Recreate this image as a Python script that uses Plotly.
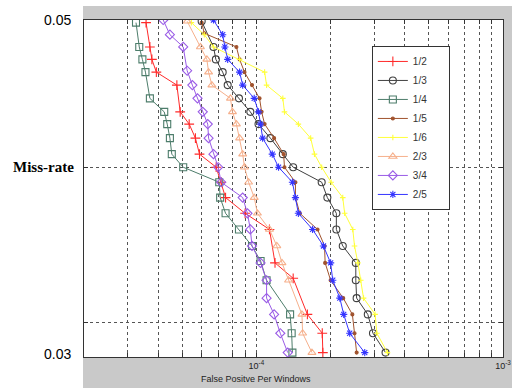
import plotly.graph_objects as go

# False positives per window (x) and miss-rate (y)
x_1_2 = [3.57e-5, 3.7e-5, 3.77e-5, 3.93e-5, 4.76e-5, 4.91e-5, 5.34e-5, 5.66e-5, 5.88e-5, 6.87e-5, 7.2e-5, 7.5e-5, 9.0e-5, 1.13e-4, 1.19e-4, 1.41e-4, 1.61e-4, 1.85e-4, 1.86e-4]
y_1_2 = [0.0498, 0.0480, 0.0471, 0.0462, 0.0453, 0.0435, 0.0427, 0.0418, 0.0408, 0.0400, 0.0391, 0.0382, 0.0373, 0.0364, 0.0346, 0.0338, 0.0320, 0.0311, 0.0302]

x_1_3 = [6.0e-5, 6.7e-5, 6.85e-5, 7.3e-5, 7.65e-5, 8.5e-5, 9.45e-5, 1.02e-4, 1.14e-4, 1.28e-4, 1.41e-4, 1.84e-4, 1.94e-4, 2.11e-4, 2.11e-4, 2.24e-4, 2.53e-4, 2.53e-4, 2.55e-4, 2.83e-4, 2.97e-4, 3.34e-4]
y_1_3 = [0.0499, 0.0480, 0.0471, 0.0462, 0.0453, 0.0444, 0.0435, 0.0427, 0.0418, 0.0408, 0.0400, 0.0391, 0.0382, 0.0373, 0.0364, 0.0355, 0.0346, 0.0337, 0.0328, 0.0320, 0.0311, 0.0302]

x_1_4 = [3.25e-5, 3.35e-5, 3.45e-5, 3.55e-5, 3.7e-5, 4.23e-5, 4.35e-5, 4.46e-5, 4.54e-5, 5.05e-5, 7.07e-5, 7.13e-5, 7.5e-5, 8.5e-5, 9.6e-5, 1.04e-4, 1.1e-4, 1.37e-4, 1.39e-4, 1.4e-4]
y_1_4 = [0.0498, 0.0480, 0.0471, 0.0462, 0.0444, 0.0435, 0.0427, 0.0418, 0.0408, 0.0400, 0.0391, 0.0382, 0.0373, 0.0364, 0.0355, 0.0347, 0.0337, 0.0320, 0.0311, 0.0302]

x_1_5 = [6.0e-5, 6.15e-5, 8.3e-5, 8.55e-5, 8.95e-5, 9.6e-5, 1.03e-4, 1.05e-4, 1.08e-4, 1.18e-4, 1.29e-4, 1.3e-4, 1.44e-4, 1.44e-4, 1.5e-4, 1.77e-4, 1.89e-4, 1.9e-4, 2.0e-4, 2.25e-4, 2.45e-4, 2.5e-4, 2.55e-4]
y_1_5 = [0.0498, 0.0490, 0.0480, 0.0471, 0.0462, 0.0453, 0.0444, 0.0435, 0.0427, 0.0418, 0.0408, 0.0400, 0.0391, 0.0382, 0.0373, 0.0364, 0.0355, 0.0346, 0.0337, 0.0328, 0.0320, 0.0311, 0.0302]

x_1_6 = [5.45e-5, 6.15e-5, 6.7e-5, 8.55e-5, 1.08e-4, 1.1e-4, 1.28e-4, 1.3e-4, 1.48e-4, 1.66e-4, 1.72e-4, 1.84e-4, 2.01e-4, 2.24e-4, 2.28e-4, 2.46e-4, 2.5e-4, 2.58e-4, 2.65e-4, 2.72e-4, 3.03e-4, 3.08e-4, 3.4e-4]
y_1_6 = [0.0498, 0.0489, 0.0480, 0.0471, 0.0462, 0.0453, 0.0444, 0.0435, 0.0427, 0.0418, 0.0408, 0.0400, 0.0391, 0.0382, 0.0373, 0.0364, 0.0355, 0.0346, 0.0337, 0.0328, 0.0320, 0.0311, 0.0302]

x_2_3 = [5.24e-5, 5.93e-5, 6.3e-5, 6.4e-5, 6.6e-5, 7.85e-5, 8.0e-5, 8.3e-5, 8.55e-5, 8.8e-5, 8.95e-5, 9.3e-5, 9.8e-5, 1.01e-4, 1.13e-4, 1.21e-4, 1.27e-4, 1.35e-4, 1.53e-4, 1.54e-4, 1.68e-4]
y_2_3 = [0.0499, 0.0480, 0.0471, 0.0462, 0.0453, 0.0444, 0.0435, 0.0427, 0.0418, 0.0408, 0.0400, 0.0391, 0.0382, 0.0373, 0.0364, 0.0355, 0.0346, 0.0337, 0.0320, 0.0311, 0.0302]

x_3_4 = [4.19e-5, 4.46e-5, 5.05e-5, 5.24e-5, 5.5e-5, 5.77e-5, 6.06e-5, 6.35e-5, 6.4e-5, 6.7e-5, 7.0e-5, 7.2e-5, 8.8e-5, 9.2e-5, 9.45e-5, 9.6e-5, 1.04e-4, 1.1e-4, 1.1e-4, 1.18e-4, 1.25e-4, 1.34e-4]
y_3_4 = [0.0500, 0.0489, 0.0480, 0.0463, 0.0453, 0.0444, 0.0435, 0.0427, 0.0418, 0.0408, 0.0400, 0.0391, 0.0382, 0.0373, 0.0364, 0.0355, 0.0346, 0.0337, 0.0328, 0.0320, 0.0311, 0.0302]

x_2_5 = [6.7e-5, 7.3e-5, 7.45e-5, 7.65e-5, 8.55e-5, 8.8e-5, 9.8e-5, 1.02e-4, 1.04e-4, 1.06e-4, 1.16e-4, 1.23e-4, 1.4e-4, 1.44e-4, 1.48e-4, 1.69e-4, 1.87e-4, 2.0e-4, 2.04e-4, 2.18e-4, 2.26e-4, 2.39e-4, 2.75e-4]
y_2_5 = [0.0500, 0.0489, 0.0480, 0.0471, 0.0462, 0.0453, 0.0444, 0.0435, 0.0427, 0.0418, 0.0408, 0.0400, 0.0391, 0.0382, 0.0373, 0.0364, 0.0355, 0.0346, 0.0337, 0.0328, 0.0320, 0.0311, 0.0302]

series_names = ["1/2", "1/3", "1/4", "1/5", "1/6", "2/3", "3/4", "2/5"]
series_x = [x_1_2, x_1_3, x_1_4, x_1_5, x_1_6, x_2_3, x_3_4, x_2_5]
series_y = [y_1_2, y_1_3, y_1_4, y_1_5, y_1_6, y_2_3, y_3_4, y_2_5]

x_tick_vals = [2e-5, 3e-5, 4e-5, 5e-5, 6e-5, 7e-5, 8e-5, 9e-5,
               1e-4, 2e-4, 3e-4, 4e-4, 5e-4, 6e-4, 7e-4, 8e-4, 9e-4, 1e-3]
x_tick_text = ["" for _ in x_tick_vals]
x_tick_text[8] = "10<sup>-4</sup>"
x_tick_text[17] = "10<sup>-3</sup>"
y_grid_vals = [0.0316228, 0.04]
y_labels = ["0.05", "<b>Miss-rate</b>", "0.03"]

colors = ["#ff2a2a", "#404040", "#4d7d6b", "#a0522d", "#ffff3a", "#f6b08c", "#9a5ce6", "#3535ff"]
symbols = ["cross-thin-open", "circle-open", "square-open", "circle", "cross-thin-open",
           "triangle-up-open", "diamond-open", "asterisk-open"]
sizes = [7, 7, 7, 3, 4, 7, 7, 6]

fig = go.Figure()
for name, xs, ys, c, s, sz in zip(series_names, series_x, series_y, colors, symbols, sizes):
    fig.add_trace(go.Scatter(
        x=xs, y=ys, name=name + "\u00a0\u00a0\u00a0\u00a0\u00a0\u00a0",
        mode="lines+markers",
        line=dict(color=c, width=1),
        marker=dict(symbol=s, size=sz, color=c, line=dict(color=c, width=1.1)),
    ))

grid = dict(showgrid=True, gridcolor="#555555", griddash="dot", gridwidth=1,
            showline=True, linecolor="#333333", linewidth=1, mirror="ticks",
            ticks="inside", ticklen=4, tickcolor="#333333", zeroline=False, automargin=False)

fig.update_xaxes(type="log", range=[-4.69897, -3], tickvals=x_tick_vals, ticktext=x_tick_text,
                 tickfont=dict(family="Arial, Liberation Sans", size=9, color="#222222"), **grid)
fig.update_yaxes(type="log", range=[-1.522879, -1.30103], tickvals=y_grid_vals,
                 showticklabels=False, **grid)

fig.update_layout(
    width=512, height=390,
    margin=dict(l=84, r=9, t=20, b=33),
    paper_bgcolor="white", plot_bgcolor="white",
    showlegend=True,
    legend=dict(x=0.687, y=0.923, xanchor="left", yanchor="top",
                bgcolor="white", bordercolor="#333333", borderwidth=1,
                font=dict(family="Arial, Liberation Sans", size=10, color="#333333")),
    shapes=[
        dict(type="rect", xref="paper", yref="paper", x0=-0.0024, x1=1.03, y0=-0.092, y1=1.0415,
             fillcolor="#c9c9c9", line=dict(width=0), layer="below"),
        dict(type="rect", xref="paper", yref="paper", x0=0, x1=1, y0=0, y1=1,
             fillcolor="white", line=dict(width=0), layer="below"),
    ],
    annotations=[
        dict(text=y_labels[0], xref="paper", yref="paper", x=0, y=1, xanchor="right", yanchor="middle",
             xshift=-11, showarrow=False, font=dict(family="Arial, Liberation Sans", size=14, color="black")),
        dict(text=y_labels[1], xref="paper", yref="y", x=0, y=-1.39794, xanchor="right", yanchor="middle",
             xshift=-8, showarrow=False, font=dict(family="Liberation Serif", size=15, color="black")),
        dict(text=y_labels[2], xref="paper", yref="paper", x=0, y=0, xanchor="right", yanchor="middle",
             xshift=-11, yshift=3, showarrow=False, font=dict(family="Arial, Liberation Sans", size=14, color="black")),
        dict(text="False Positve Per Windows", xref="x", yref="paper", x=-4.0, y=0, xanchor="center",
             yanchor="top", yshift=-15, showarrow=False,
             font=dict(family="Arial, Liberation Sans", size=9, color="#222222")),
    ],
)

fig.write_html("out.html", config={"displayModeBar": False},
               post_script="document.body.style.margin='0px';")
